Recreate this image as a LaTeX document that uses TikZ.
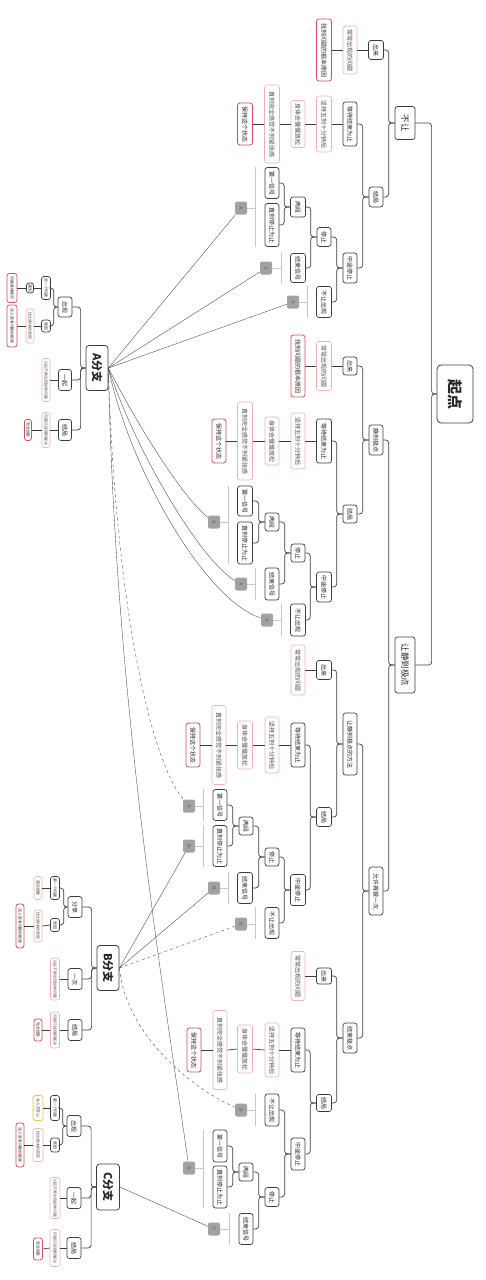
\documentclass[tikz,border=0pt]{standalone}
\usepackage{fontspec}
\newfontfamily\cjk{Noto Sans CJK SC}
\usetikzlibrary{calc}
\definecolor{edge}{HTML}{3C3C3C}
\definecolor{pinkb}{HTML}{EDB0B6}
\definecolor{redb}{HTML}{D0505A}
\definecolor{tagf}{HTML}{A2A2A2}
\definecolor{brkc}{HTML}{C6C6C6}
\definecolor{yelb}{HTML}{F0BE4A}
\newcommand\vtxt[1]{\rotatebox{-90}{#1}}
% bracket beside one or two nodes, with a grey tag hooked to it
\newcommand\tagbr[5]{%
  \coordinate (#1t) at ([xshift=-9pt]#3.north west);
  \coordinate (#1b) at ([xshift=-9pt]#4.south west);
  \draw[brk] (#1t) -- (#1b);
  \node[tg] (#1) at #2 {\vtxt{#5}};
  \draw[brk] (#1.east) -- (#1.east -| #1t);
}
\tikzset{
  nbox/.style={rounded corners=2.5pt, inner sep=0pt, text=black!85, font=\cjk\fontsize{6}{6}\selectfont},
  dk/.style 2 args={nbox, draw=edge, line width=0.7pt, minimum width=#1pt, minimum height=#2pt},
  pk/.style 2 args={nbox, draw=pinkb, line width=0.6pt, text=black!70, minimum width=#1pt, minimum height=#2pt},
  rd/.style 2 args={nbox, draw=redb, line width=0.8pt, minimum width=#1pt, minimum height=#2pt},
  yl/.style 2 args={nbox, draw=yelb, line width=0.7pt, minimum width=#1pt, minimum height=#2pt},
  sm/.style={font=\cjk\fontsize{3.8}{3.8}\selectfont},
  lv1/.style={font=\cjk\fontsize{8.5}{8.5}\selectfont},
  brf/.style={font=\cjk\bfseries\fontsize{11}{11}\selectfont, line width=0.8pt, rounded corners=3pt},
  tg/.style={fill=tagf, rounded corners=2pt, inner sep=0pt, minimum width=12pt, minimum height=13pt,
             font=\sffamily\fontsize{5}{5}\selectfont, text=black!65},
  conn/.style={draw=edge, line width=0.7pt, rounded corners=3pt},
  brk/.style={draw=brkc, line width=0.8pt},
  rel/.style={draw=black!75, line width=0.35pt},
}
\begin{document}
\begin{tikzpicture}[x=1pt,y=-1pt]
\fill[white] (0,0) rectangle (485,1280);
\useasboundingbox (0,0) rectangle (485,1280);

% ---------- root and first level ----------
\node[dk={36}{58}, font=\cjk\bfseries\fontsize{15}{15}\selectfont, line width=0.8pt, rounded corners=4pt] (root) at (455,394) {\vtxt{起点}};
\node[dk={20}{33}, lv1] (bu) at (405,123) {\vtxt{不让}};
\node[dk={20}{56}, lv1] (rj) at (405,665) {\vtxt{让静到极点}};
\draw[conn] (root.west) -- ++(-5,0) |- (bu.east);
\draw[conn] (root.west) -- ++(-5,0) |- (rj.east);

% ---------- branch: 不让 ----------
\node[dk={15}{19}] (bu-out) at (376,50) {\vtxt{出来}};
\node[pk={14}{48}] (bu-out-p) at (350,50) {\vtxt{常常出现的问题}};
\node[rd={15}{62}] (bu-out-r) at (324,50) {\vtxt{找到问题的根本原因}};
\node[dk={14}{20}] (bu-end) at (376,197) {\vtxt{结局}};
\node[dk={14}{44}] (bu-wait) at (350,124) {\vtxt{等待结束为止}};
\node[pk={15}{56}] (bu-w1) at (324,124) {\vtxt{坚持五到十分钟后}};
\node[pk={14}{47}] (bu-w2) at (298,124) {\vtxt{身体会慢慢放松}};
\node[pk={15}{78}] (bu-w3) at (272,124) {\vtxt{直到完全感觉不到紧张感}};
\node[rd={15}{42}] (bu-w4) at (245,124) {\vtxt{保持这个状态}};
\node[dk={14}{30}] (bu-mid) at (350,268) {\vtxt{中途停止}};
\node[dk={14}{19}] (bu-stop) at (324,237) {\vtxt{停止}};
\node[dk={15}{31}] (bu-no) at (324,302) {\vtxt{不让出现}};
\node[dk={15}{20}] (bu-seg) at (298,207) {\vtxt{两段}};
\node[dk={15}{29}] (bu-sig) at (298,268) {\vtxt{结束信号}};
\node[dk={14}{31}] (bu-s1) at (272,183) {\vtxt{第一信号}};
\node[dk={14}{43}] (bu-s2) at (272,225) {\vtxt{直到停止为止}};

% ---------- branch: 让静到极点 ----------
\node[dk={14}{30}] (m1) at (376,440) {\vtxt{静到极点}};
\node[dk={14}{48}] (m2) at (376,891) {\vtxt{允许再做一次}};

\node[dk={14}{18}] (m1-out) at (350,366) {\vtxt{出来}};
\node[pk={15}{49}] (m1-out-p) at (324,366) {\vtxt{常常出现的问题}};
\node[rd={14}{62}] (m1-out-r) at (298,366) {\vtxt{找到问题的根本原因}};
\node[dk={14}{18}] (m1-end) at (350,514) {\vtxt{结局}};
\node[dk={15}{44}] (m1-wait) at (324,441) {\vtxt{等待结束为止}};
\node[pk={14}{56}] (m1-w1) at (298,441) {\vtxt{坚持五到十分钟后}};
\node[pk={14}{48}] (m1-w2) at (272,441) {\vtxt{身体会慢慢放松}};
\node[pk={15}{78}] (m1-w3) at (245,441) {\vtxt{直到完全感觉不到紧张感}};
\node[rd={14}{44}] (m1-w4) at (219,441) {\vtxt{保持这个状态}};
\node[dk={15}{30}] (m1-mid) at (324,587) {\vtxt{中途停止}};
\node[dk={14}{18}] (m1-stop) at (298,553) {\vtxt{停止}};
\node[dk={15}{32}] (m1-no) at (298,620) {\vtxt{不让出现}};
\node[dk={14}{18}] (m1-seg) at (272,522) {\vtxt{两段}};
\node[dk={14}{32}] (m1-sig) at (272,584) {\vtxt{结束信号}};
\node[dk={15}{30}] (m1-s1) at (245,501) {\vtxt{第一信号}};
\node[dk={15}{42}] (m1-s2) at (245,543) {\vtxt{直到停止为止}};

\node[dk={14}{62}] (m21) at (350,744) {\vtxt{让静到极点的方法}};
\node[dk={14}{30}] (m22) at (350,1038) {\vtxt{结束极点}};

\node[dk={15}{19}] (m21-out) at (324,670) {\vtxt{出来}};
\node[pk={14}{50}] (m21-out-p) at (298,670) {\vtxt{常常出现的问题}};
\node[dk={15}{19}] (m21-end) at (324,817) {\vtxt{结局}};
\node[dk={14}{44}] (m21-wait) at (298,745) {\vtxt{等待结束为止}};
\node[pk={14}{56}] (m21-w1) at (272,745) {\vtxt{坚持五到十分钟后}};
\node[pk={15}{48}] (m21-w2) at (245,745) {\vtxt{身体会慢慢放松}};
\node[pk={14}{79}] (m21-w3) at (219,745) {\vtxt{直到完全感觉不到紧张感}};
\node[rd={14}{44}] (m21-w4) at (193,745) {\vtxt{保持这个状态}};
\node[dk={15}{31}] (m21-mid) at (298,890) {\vtxt{中途停止}};
\node[dk={14}{18}] (m21-stop) at (272,857) {\vtxt{停止}};
\node[dk={14}{31}] (m21-no) at (272,923) {\vtxt{不让出现}};
\node[dk={14}{18}] (m21-seg) at (246,826) {\vtxt{两段}};
\node[dk={15}{31}] (m21-sig) at (245,888) {\vtxt{结束信号}};
\node[dk={14}{31}] (m21-s1) at (220,805) {\vtxt{第一信号}};
\node[dk={14}{41}] (m21-s2) at (220,846) {\vtxt{直到停止为止}};

\node[dk={15}{16}] (m22-out) at (324,976) {\vtxt{出来}};
\node[pk={14}{49}] (m22-out-p) at (298,976) {\vtxt{常常出现的问题}};
\node[dk={15}{17}] (m22-end) at (324,1103) {\vtxt{结局}};
\node[dk={14}{44}] (m22-wait) at (298,1050) {\vtxt{等待结束为止}};
\node[pk={14}{54}] (m22-w1) at (272,1050) {\vtxt{坚持五到十分钟后}};
\node[pk={15}{48}] (m22-w2) at (245,1049) {\vtxt{身体会慢慢放松}};
\node[pk={14}{79}] (m22-w3) at (220,1050) {\vtxt{直到完全感觉不到紧张感}};
\node[rd={14}{44}] (m22-w4) at (194,1050) {\vtxt{保持这个状态}};
\node[dk={14}{32}] (m22-mid) at (298,1154) {\vtxt{中途停止}};
\node[dk={14}{32}] (m22-no) at (272,1110) {\vtxt{不让出现}};
\node[dk={14}{19}] (m22-stop) at (272,1197) {\vtxt{停止}};
\node[dk={14}{18}] (m22-seg) at (246,1172) {\vtxt{两段}};
\node[dk={14}{31}] (m22-sig) at (246,1229) {\vtxt{结束信号}};
\node[dk={14}{32}] (m22-s1) at (220,1146) {\vtxt{第一信号}};
\node[dk={14}{42}] (m22-s2) at (220,1187) {\vtxt{直到停止为止}};

% elbow connectors of the main tree
\foreach \p/\c in {bu/bu-out, bu/bu-end, bu-end/bu-wait, bu-end/bu-mid, bu-mid/bu-stop, bu-mid/bu-no,
  bu-stop/bu-seg, bu-stop/bu-sig, bu-seg/bu-s1, bu-seg/bu-s2,
  rj/m1, rj/m2, m1/m1-out, m1/m1-end, m1-end/m1-wait, m1-end/m1-mid, m1-mid/m1-stop, m1-mid/m1-no,
  m1-stop/m1-seg, m1-stop/m1-sig, m1-seg/m1-s1, m1-seg/m1-s2,
  m2/m21, m2/m22, m21/m21-out, m21/m21-end, m21-end/m21-wait, m21-end/m21-mid, m21-mid/m21-stop,
  m21-mid/m21-no, m21-stop/m21-seg, m21-stop/m21-sig, m21-seg/m21-s1, m21-seg/m21-s2,
  m22/m22-out, m22/m22-end, m22-end/m22-wait, m22-end/m22-mid, m22-mid/m22-no, m22-mid/m22-stop,
  m22-stop/m22-seg, m22-stop/m22-sig, m22-seg/m22-s1, m22-seg/m22-s2}
  \draw[conn] (\p.west) -- ++(-6,0) |- (\c.east);
% straight chains
\foreach \a/\b in {bu-out/bu-out-p, bu-out-p/bu-out-r, bu-wait/bu-w1, bu-w1/bu-w2, bu-w2/bu-w3, bu-w3/bu-w4,
  m1-out/m1-out-p, m1-out-p/m1-out-r, m1-wait/m1-w1, m1-w1/m1-w2, m1-w2/m1-w3, m1-w3/m1-w4,
  m21-out/m21-out-p, m21-wait/m21-w1, m21-w1/m21-w2, m21-w2/m21-w3, m21-w3/m21-w4,
  m22-out/m22-out-p, m22-wait/m22-w1, m22-w1/m22-w2, m22-w2/m22-w3, m22-w3/m22-w4}
  \draw[conn] (\a.west) -- (\b.east);

% tags
\tagbr{ta1}{(241,208)}{bu-s1}{bu-s2}{A}
\tagbr{ta2}{(266,268)}{bu-sig}{bu-sig}{A}
\tagbr{ta3}{(293,302)}{bu-no}{bu-no}{A}
\tagbr{tb1}{(214,522)}{m1-s1}{m1-s2}{A}
\tagbr{tb2}{(241,584)}{m1-sig}{m1-sig}{A}
\tagbr{tb3}{(267,620)}{m1-no}{m1-no}{A}
\tagbr{tc1}{(189,806)}{m21-s1}{m21-s1}{A}
\tagbr{tc2}{(189,846)}{m21-s2}{m21-s2}{B}
\tagbr{tc3}{(214,888)}{m21-sig}{m21-sig}{B}
\tagbr{tc4}{(241,924)}{m21-no}{m21-no}{B}
\tagbr{td1}{(241,1110)}{m22-no}{m22-no}{B}
\tagbr{td2}{(189,1168)}{m22-s1}{m22-s2}{A}
\tagbr{td3}{(214,1229)}{m22-sig}{m22-sig}{C}

% ---------- side map: A分支 ----------
\node[dk={22}{45}, brf] (ab) at (97,368) {\vtxt{A分支}};
\node[dk={14}{20}] (ab1) at (65,307) {\vtxt{出现}};
\node[dk={13}{21}] (ab2) at (65,380) {\vtxt{一起}};
\node[dk={13}{21}] (ab3) at (65,430) {\vtxt{结局}};
\node[dk={9}{23}, sm] (ab11) at (46,288) {\vtxt{另一个问题}};
\node[dk={9}{12}, sm] (ab12) at (46,326) {\vtxt{原因}};
\node[dk={7}{10}, sm] (ab111) at (30,288) {\vtxt{遇到}};
\node[rd={10}{29}, sm] (ab112) at (12,288) {\vtxt{问题具体情况}};
\node[pk={8}{34}, sm] (ab121) at (30,326) {\vtxt{找出根本的原因}};
\node[rd={10}{42}, sm] (ab122) at (12,326) {\vtxt{深入思考问题的根源}};
\node[pk={8}{43}, sm] (ab21) at (46,380) {\vtxt{以后不再出现这种问题}};
\node[pk={8}{35}, sm] (ab31) at (46,430) {\vtxt{问题已经得到解决}};
\node[rd={7}{21}, sm] (ab32) at (28,430) {\vtxt{完全结束}};

% ---------- side map: B分支 ----------
\node[dk={22}{45}, brf] (bb) at (108,968) {\vtxt{B分支}};
\node[dk={14}{21}] (bb1) at (75,907) {\vtxt{分享}};
\node[dk={14}{21}] (bb2) at (75,979) {\vtxt{一次}};
\node[dk={14}{21}] (bb3) at (75,1030) {\vtxt{结局}};
\node[dk={9}{23}, sm] (bb11) at (55,888) {\vtxt{第一个问题}};
\node[dk={9}{13}, sm] (bb12) at (55,925) {\vtxt{原因}};
\node[pk={8}{23}, sm] (bb111) at (38,888) {\vtxt{遇到困难}};
\node[pk={8}{32}, sm] (bb121) at (38,926) {\vtxt{找出根本的原因}};
\node[rd={8}{44}, sm] (bb122) at (20,926) {\vtxt{深入思考问题的根源}};
\node[pk={9}{42}, sm] (bb21) at (55,979) {\vtxt{以后不再出现这种问题}};
\node[pk={9}{36}, sm] (bb31) at (55,1030) {\vtxt{问题已经得到解决}};
\node[rd={8}{22}, sm] (bb32) at (38,1030) {\vtxt{完全结束}};

% ---------- side map: C分支 ----------
\node[dk={23}{46}, brf] (cb) at (108,1187) {\vtxt{C分支}};
\node[dk={14}{21}] (cb1) at (74,1126) {\vtxt{出现}};
\node[dk={14}{21}] (cb2) at (74,1198) {\vtxt{一起}};
\node[dk={14}{21}] (cb3) at (74,1248) {\vtxt{结局}};
\node[dk={9}{25}, sm] (cb11) at (55,1108) {\vtxt{第一个问题}};
\node[dk={9}{14}, sm] (cb12) at (55,1145) {\vtxt{原因}};
\node[yl={10}{25}, sm] (cb111) at (38,1108) {\vtxt{令人不开心}};
\node[pk={10}{33}, sm] (cb121) at (38,1145) {\vtxt{找出根本的原因}};
\node[rd={8}{44}, sm] (cb122) at (20,1145) {\vtxt{深入思考问题的根源}};
\node[pk={10}{41}, sm] (cb21) at (55,1198) {\vtxt{以后不再出现这种问题}};
\node[pk={10}{37}, sm] (cb31) at (55,1248) {\vtxt{问题已经得到解决}};
\node[rd={9}{22}, sm] (cb32) at (38,1249) {\vtxt{完全结束}};

\foreach \p/\c in {ab/ab1, ab/ab2, ab/ab3, bb/bb1, bb/bb2, bb/bb3, cb/cb1, cb/cb2, cb/cb3}
  \draw[conn] (\p.west) -- ++(-5,0) |- (\c.east);
\foreach \p/\c in {ab1/ab11, ab1/ab12, bb1/bb11, bb1/bb12, cb1/cb11, cb1/cb12}
  \draw[conn] (\p.west) -- ++(-4,0) |- (\c.east);
\foreach \a/\b in {ab11/ab111, ab111/ab112, ab12/ab121, ab121/ab122, ab2/ab21, ab3/ab31, ab31/ab32,
  bb11/bb111, bb12/bb121, bb121/bb122, bb2/bb21, bb3/bb31, bb31/bb32,
  cb11/cb111, cb12/cb121, cb121/cb122, cb2/cb21, cb3/cb31, cb31/cb32}
  \draw[conn] (\a.west) -- (\b.east);

% ---------- relation lines from the side maps to the tags ----------
\draw[rel] (ab.east) -- (ta1);
\draw[rel] (ab.east) -- (ta2);
\draw[rel] (ab.east) -- (ta3);
\draw[rel] (ab.east) .. controls (140,430) and (185,500) .. (tb1);
\draw[rel] (ab.east) .. controls (135,450) and (200,560) .. (tb2);
\draw[rel] (ab.east) .. controls (130,470) and (205,600) .. (tb3);
\draw[rel, dashed] (ab.east) .. controls (115,600) and (150,760) .. (tc1);
\draw[rel] (ab.east) .. controls (115,700) and (165,1000) .. (td2);
\draw[rel] (bb.east) -- (tc2);
\draw[rel] (bb.east) -- (tc3);
\draw[rel, dashed] (bb.east) -- (tc4);
\draw[rel, dashed] (bb.east) .. controls (125,1030) and (185,1085) .. (td1);
\draw[rel] (cb.east) -- (td3);
\end{tikzpicture}
\end{document}
